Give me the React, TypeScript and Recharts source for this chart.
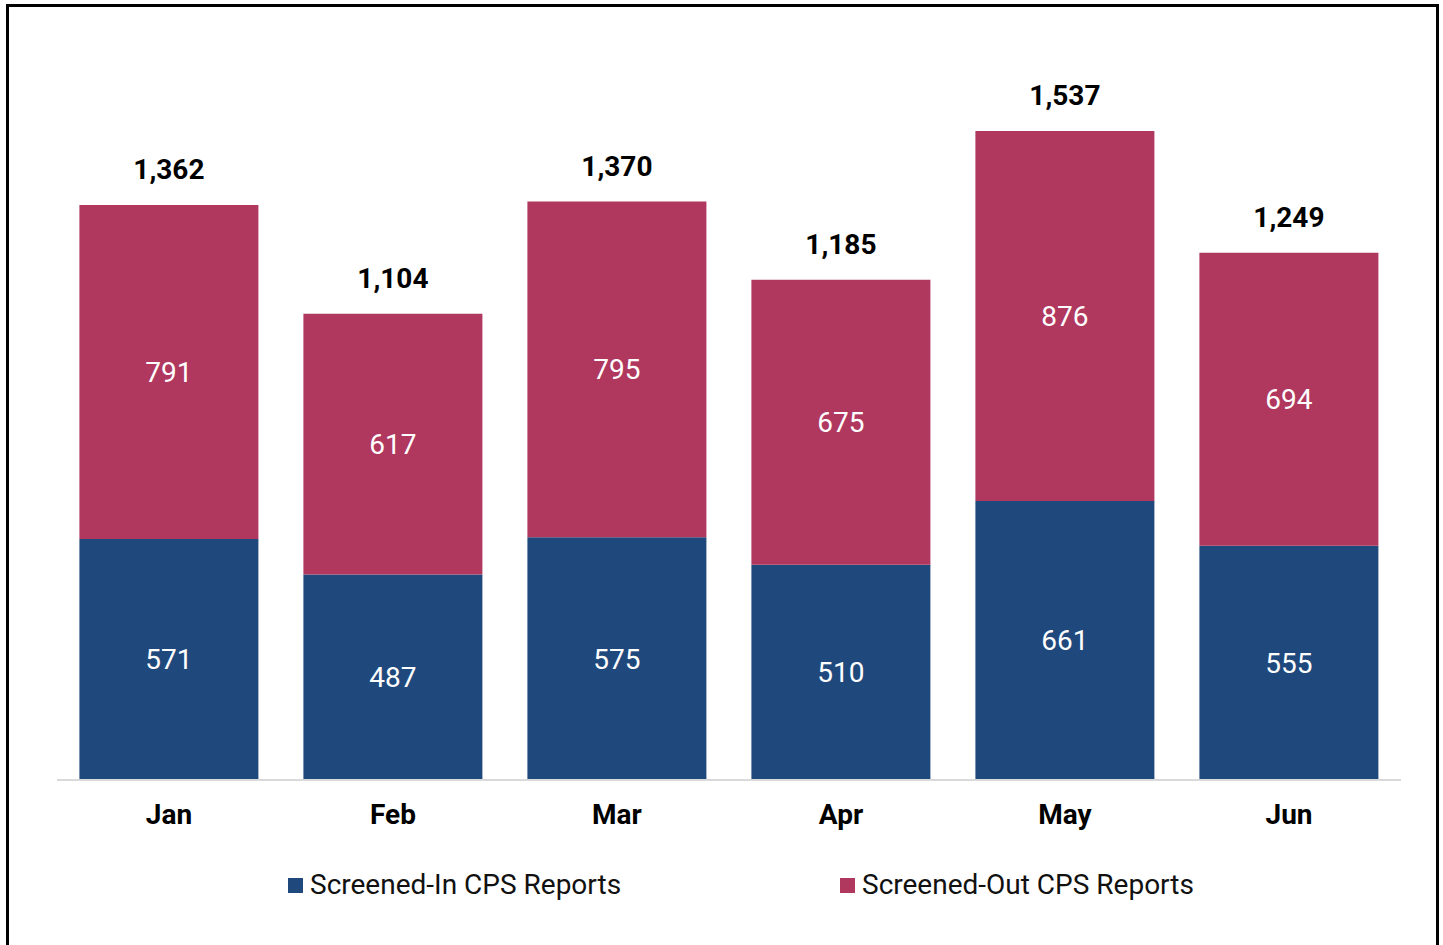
import React from 'react';
import { BarChart, Bar, XAxis, YAxis, LabelList, Legend } from 'recharts';

const months = ['Jan', 'Feb', 'Mar', 'Apr', 'May', 'Jun'];
const screenedIn = [571, 487, 575, 510, 661, 555];
const screenedOut = [791, 617, 795, 675, 876, 694];
const totals = [1362, 1104, 1370, 1185, 1537, 1249];

const BLUE = '#1F497D';
const RED = '#B0385F';
const FONT = 'Roboto, "Noto Sans", sans-serif';

const data = months.map((m, i) => ({
  month: m,
  screenedIn: screenedIn[i],
  screenedOut: screenedOut[i],
  total: totals[i],
}));

const fmt = (v: any) => Number(v).toLocaleString('en-US');

const renderLegend = (props: any) => {
  const items = props.payload || [];
  return (
    <div style={{ display: 'flex', marginLeft: 288, fontFamily: FONT }}>
      {items.map((it: any, i: number) => (
        <div
          key={it.value}
          style={{ display: 'flex', alignItems: 'center', width: i === 0 ? 552 : 'auto' }}
        >
          <span style={{ width: 15, height: 15, background: it.color, marginRight: 7 }} />
          <span style={{ fontSize: 28, color: '#111', lineHeight: '32px' }}>{it.value}</span>
        </div>
      ))}
    </div>
  );
};

const App: React.FC = () => {
  return (
    <div style={{ position: 'absolute', left: 0, top: 0, width: 1443, height: 945, overflow: 'hidden', background: '#fff' }}>
      <div
        style={{
          position: 'absolute',
          left: 6,
          top: 4,
          width: 1427,
          height: 980,
          border: '3px solid #000',
        }}
      />
      <div style={{ position: 'absolute', left: 0, top: 0 }}>
        <BarChart
          width={1443}
          height={945}
          data={data}
          barCategoryGap="10%"
          margin={{ top: 20, right: 42, left: 57, bottom: 105 }}
        >
          <XAxis
            dataKey="month"
            height={60}
            tickLine={false}
            tickSize={0}
            tickMargin={24}
            axisLine={{ stroke: '#D9D9D9', strokeWidth: 2 }}
            tick={{ fontSize: 28, fontWeight: 700, fill: '#000', fontFamily: FONT }}
          />
          <YAxis hide domain={[0, 1800]} />
          <Legend
            verticalAlign="middle"
            layout="horizontal"
            align="center"
            wrapperStyle={{ top: 869, left: 0, width: 1443 }}
            content={renderLegend}
          />
          <Bar
            dataKey="screenedIn"
            name="Screened-In CPS Reports"
            stackId="a"
            fill={BLUE}
            isAnimationActive={false}
          >
            <LabelList
              dataKey="screenedIn"
              position="center"
              fill="#fff"
              style={{ fontSize: 28, fontFamily: FONT }}
            />
          </Bar>
          <Bar
            dataKey="screenedOut"
            name="Screened-Out CPS Reports"
            stackId="a"
            fill={RED}
            isAnimationActive={false}
          >
            <LabelList
              dataKey="screenedOut"
              position="center"
              fill="#fff"
              style={{ fontSize: 28, fontFamily: FONT }}
            />
            <LabelList
              dataKey="total"
              position="top"
              offset={26}
              fill="#000"
              formatter={fmt}
              style={{ fontSize: 28, fontWeight: 700, fontFamily: FONT }}
            />
          </Bar>
        </BarChart>
      </div>
    </div>
  );
};

export default App;
